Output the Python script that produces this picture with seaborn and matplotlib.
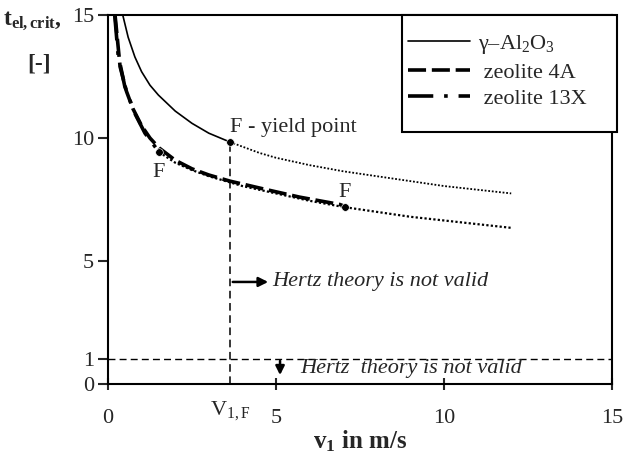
import numpy as np
import pandas as pd
import matplotlib
matplotlib.use('Agg')
import matplotlib.pyplot as plt
import matplotlib.patches as mpatches
import seaborn as sns

# values
al2o3_v = [0.44, 0.6, 0.8, 1.0, 1.25, 1.5, 2.0, 2.5, 3.0, 3.63]
al2o3_t = [15.0, 14.1, 13.3, 12.7, 12.15, 11.75, 11.1, 10.6, 10.2, 9.84]
al2o3_dot_v = [3.63, 4.5, 5.0, 6.0, 7.0, 8.0, 9.0, 10.0, 11.0, 12.0]
al2o3_dot_t = [9.84, 9.4, 9.2, 8.9, 8.65, 8.45, 8.25, 8.05, 7.9, 7.75]

z4a_v = [0.21, 0.36, 0.55, 0.74, 1.0, 1.25, 1.52, 2.0, 2.5, 3.0, 3.63, 4.73, 5.7, 6.9, 7.05]
z4a_t = [15.0, 12.9, 11.9, 11.2, 10.5, 10.0, 9.6, 9.1, 8.75, 8.5, 8.25, 7.9, 7.6, 7.3, 7.22]

z13x_v = [0.2, 0.3, 0.5, 0.8, 1.1, 1.52]
z13x_t = [15.0, 13.4, 12.1, 11.0, 10.2, 9.43]

zeo_dot_v = [1.52, 2.0, 2.5, 3.0, 3.63, 4.0, 5.0, 6.0, 7.0, 8.0, 9.0, 10.0, 11.0, 12.0]
zeo_dot_t = [9.43, 9.0, 8.7, 8.45, 8.2, 8.05, 7.75, 7.45, 7.2, 7.0, 6.8, 6.65, 6.5, 6.35]

yield_v = [3.63, 1.52, 7.05]
yield_t = [9.84, 9.43, 7.2]

v1f = 3.63
hertz_limit = 1.0

sns.set_style('ticks')
plt.rcParams['font.family'] = ['Liberation Serif', 'DejaVu Serif']
plt.rcParams['mathtext.fontset'] = 'custom'
plt.rcParams['mathtext.rm'] = 'Liberation Serif'
plt.rcParams['mathtext.it'] = 'Liberation Serif:italic'
plt.rcParams['mathtext.bf'] = 'Liberation Serif:bold'

fig = plt.figure(figsize=(6.29, 4.59), dpi=100)
ax = fig.add_axes([0.1717, 0.1634, 0.8013, 0.8036])

sns.lineplot(x=al2o3_v, y=al2o3_t, ax=ax, color='black', lw=1.2, sort=False,
             label='γ–Al$_2$O$_3$')
sns.lineplot(x=z4a_v, y=z4a_t, ax=ax, color='black', lw=2.6, sort=False,
             linestyle=(0, (5, 1.6)), label=' zeolite 4A')
sns.lineplot(x=z13x_v, y=z13x_t, ax=ax, color='black', lw=2.6, sort=False,
             linestyle=(0, (7, 3, 1, 3)), label=' zeolite 13X')
sns.lineplot(x=al2o3_dot_v, y=al2o3_dot_t, ax=ax, color='black', lw=1.3,
             sort=False, linestyle=(0, (1, 1)))
sns.lineplot(x=zeo_dot_v, y=zeo_dot_t, ax=ax, color='black', lw=1.6,
             sort=False, linestyle=(0, (1, 1)))
sns.scatterplot(x=yield_v, y=yield_t, ax=ax, color='black', s=30, zorder=5)

# limits of Hertz theory
ax.plot([v1f, v1f], [0, yield_t[0]], color='black', lw=1.1, ls=(0, (5, 3)))
ax.axhline(hertz_limit, color='black', lw=1.0, ls=(0, (5, 3)))
ax.annotate('', xy=(4.85, 4.15), xytext=(3.63, 4.15),
            arrowprops=dict(arrowstyle='-|>', color='black', lw=1.8, mutation_scale=14))
ax.text(4.88, 4.15, 'Hertz theory is not valid', style='italic', fontsize=16,
        va='center', ha='left')
ax.annotate('', xy=(5.12, 0.25), xytext=(5.12, 1.05),
            arrowprops=dict(arrowstyle='-|>', color='black', lw=1.8, mutation_scale=13))
ax.text(5.71, 0.65, 'Hertz  theory is not valid', style='italic', fontsize=16,
        va='center', ha='left')

ax.text(3.63, 10.45, 'F - yield point', fontsize=16, ha='left', va='center')
ax.text(1.5, 8.6, 'F', fontsize=16, ha='center', va='center')
ax.text(7.05, 7.8, 'F', fontsize=16, ha='center', va='center')

ax.set_xlim(0, 15)
ax.set_ylim(0, 15)
ax.set_xticks([0, 5, 10, 15])
ax.set_yticks([0, 1, 5, 10, 15])
ax.tick_params(axis='x', direction='inout', length=8, width=1.5, labelsize=16, pad=14)
ax.tick_params(axis='y', direction='out', length=7, width=1.5, labelsize=16, pad=3)
for s in ax.spines.values():
    s.set_color('black')
    s.set_linewidth(1.5)

ax.text(v1f, -0.6, 'V$_\\mathrm{1,F}$', fontsize=16, ha='center', va='top')
ax.set_xlabel('v$_\\mathbf{1}$ in m/s', fontsize=18, fontweight='bold', labelpad=0)
ax.set_ylabel('')
fig.text(0.005, 0.955, '$\\mathbf{t_{el,crit}}$,', fontsize=17, fontweight='bold',
         ha='left', va='center')
fig.text(0.062, 0.86, '[-]', fontsize=17, fontweight='bold', ha='center', va='center')

# legend box drawn separately so its padding can match the reference
ax.add_patch(mpatches.Rectangle((0.583, 0.683), 0.427, 0.317, transform=ax.transAxes,
                                facecolor='white', edgecolor='black', lw=1.5,
                                clip_on=False, zorder=6))
leg = ax.legend(loc='upper left', bbox_to_anchor=(0.595, 0.951), fontsize=16,
                frameon=False, handlelength=2.8, handletextpad=0.35,
                labelspacing=0.26, borderpad=0, borderaxespad=0)
leg.set_zorder(7)

fig.savefig('out.png', dpi=100)
